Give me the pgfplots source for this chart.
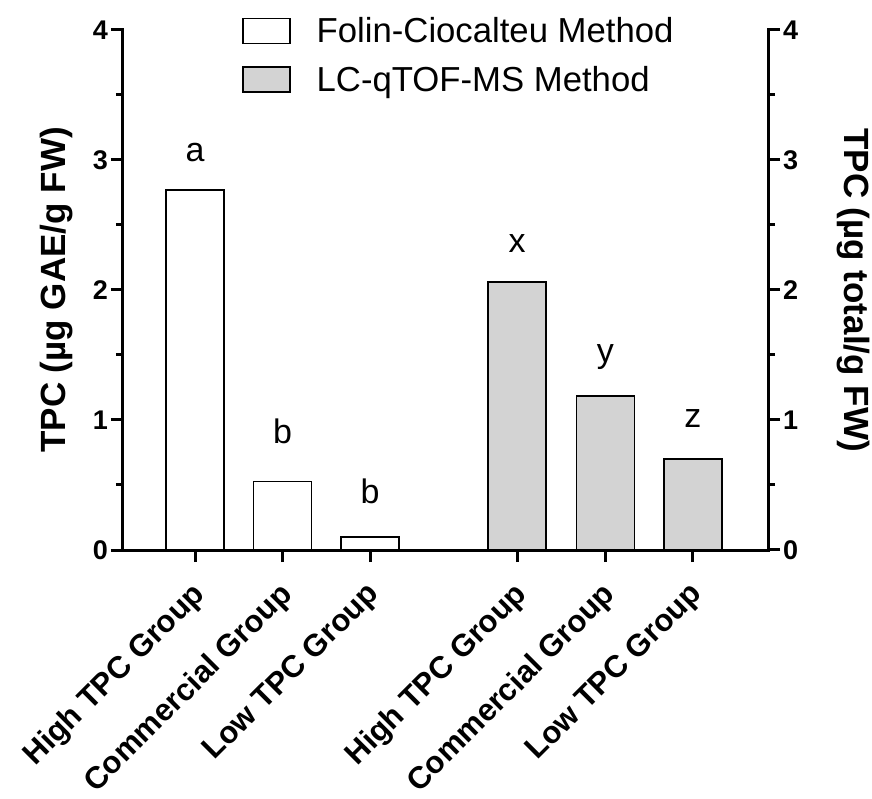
\documentclass[border=0pt]{standalone}
\usepackage{fontspec}
\setmainfont{Liberation Sans}
\usepackage{pgfplots}
\pgfplotsset{compat=1.18}
\definecolor{barg}{RGB}{211,211,211}
\begin{document}
\begin{tikzpicture}
\begin{axis}[
  scale only axis, width=645pt, height=520pt,
  xmin=-0.823, xmax=6.548, ymin=0, ymax=4,
  axis y line*=left, axis x line*=bottom,
  axis line style={line width=3pt, -},
  tick align=outside,
  major tick length=12pt, minor tick length=7pt,
  tick style={black, line width=3pt},
  xtick={0,1,2,3.68,4.69,5.69},
  xticklabels={High TPC Group, Commercial Group, Low TPC Group, High TPC Group, Commercial Group, Low TPC Group},
  ytick={0,1,2,3,4}, minor ytick={0.5,1.5,2.5,3.5},
  /pgf/number format/assume math mode=true,
  yticklabel style={font=\fontsize{27}{32}\selectfont\bfseries, inner sep=3pt},
  xticklabel style={font=\fontsize{31}{37}\selectfont\bfseries, rotate=45, anchor=north east, inner sep=2pt, xshift=-14pt, yshift=-7pt},
  ylabel={TPC (µg GAE/g FW)},
  ylabel style={font=\fontsize{35}{42}\selectfont\bfseries, at={(axis description cs:-0.0884,0.5)}, anchor=base, inner sep=0pt},
  legend image code/.code={\draw[#1] (0pt,-12.5pt) rectangle (47pt,12.5pt);},
  legend style={draw=none, fill=none, at={(axis description cs:0.1845,1.028)}, anchor=north west,
    font=\fontsize{34.7}{40}\selectfont, row sep=18pt, inner sep=0pt,
    /tikz/every odd column/.style={column sep=24pt}},
  legend cell align=left,
  clip=false,
]
\addplot[ybar, bar width=0.663, bar shift=0pt, fill=white, draw=black, line width=1.5pt]
  coordinates {(0,2.77) (1,0.525) (2,0.10)};
\addlegendentry{Folin-Ciocalteu Method}
\addplot[ybar, bar width=0.663, bar shift=0pt, fill=barg, draw=black, line width=1.5pt]
  coordinates {(3.68,2.06) (4.69,1.185) (5.69,0.70)};
\addlegendentry{LC-qTOF-MS Method}
\draw[line width=3pt, line cap=rect] (rel axis cs:0,1) -- (rel axis cs:0,0) -- (rel axis cs:1,0) -- (rel axis cs:1,1);
\node[font=\fontsize{34}{40}\selectfont, anchor=base] at (axis cs:0,2.985) {a};
\node[font=\fontsize{34}{40}\selectfont, anchor=base] at (axis cs:1,0.823) {b};
\node[font=\fontsize{34}{40}\selectfont, anchor=base] at (axis cs:2,0.36) {b};
\node[font=\fontsize{34}{40}\selectfont, anchor=base] at (axis cs:3.68,2.29) {x};
\node[font=\fontsize{34}{40}\selectfont, anchor=base] at (axis cs:4.69,1.44) {y};
\node[font=\fontsize{34}{40}\selectfont, anchor=base] at (axis cs:5.69,0.946) {z};
\end{axis}
\begin{axis}[
  scale only axis, width=645pt, height=520pt,
  xmin=-0.823, xmax=6.548, ymin=0, ymax=4,
  axis y line*=right, axis x line=none,
  axis line style={line width=3pt, -},
  tick align=outside,
  major tick length=12pt, minor tick length=7pt,
  tick style={black, line width=3pt},
  ytick={0,1,2,3,4}, minor ytick={0.5,1.5,2.5,3.5},
  /pgf/number format/assume math mode=true,
  yticklabel style={font=\fontsize{27}{32}\selectfont\bfseries, inner sep=3pt},
  ylabel={TPC (µg total/g FW)},
  ylabel style={font=\fontsize{35}{42}\selectfont\bfseries, at={(axis description cs:1.118,0.5)}, rotate=180, anchor=base, inner sep=0pt},
]
\addplot[draw=none] coordinates {(0,0)};
\end{axis}
\pgfresetboundingbox
\path[use as bounding box] (-123pt,-249pt) rectangle (749pt,550pt);
\end{tikzpicture}
\end{document}
